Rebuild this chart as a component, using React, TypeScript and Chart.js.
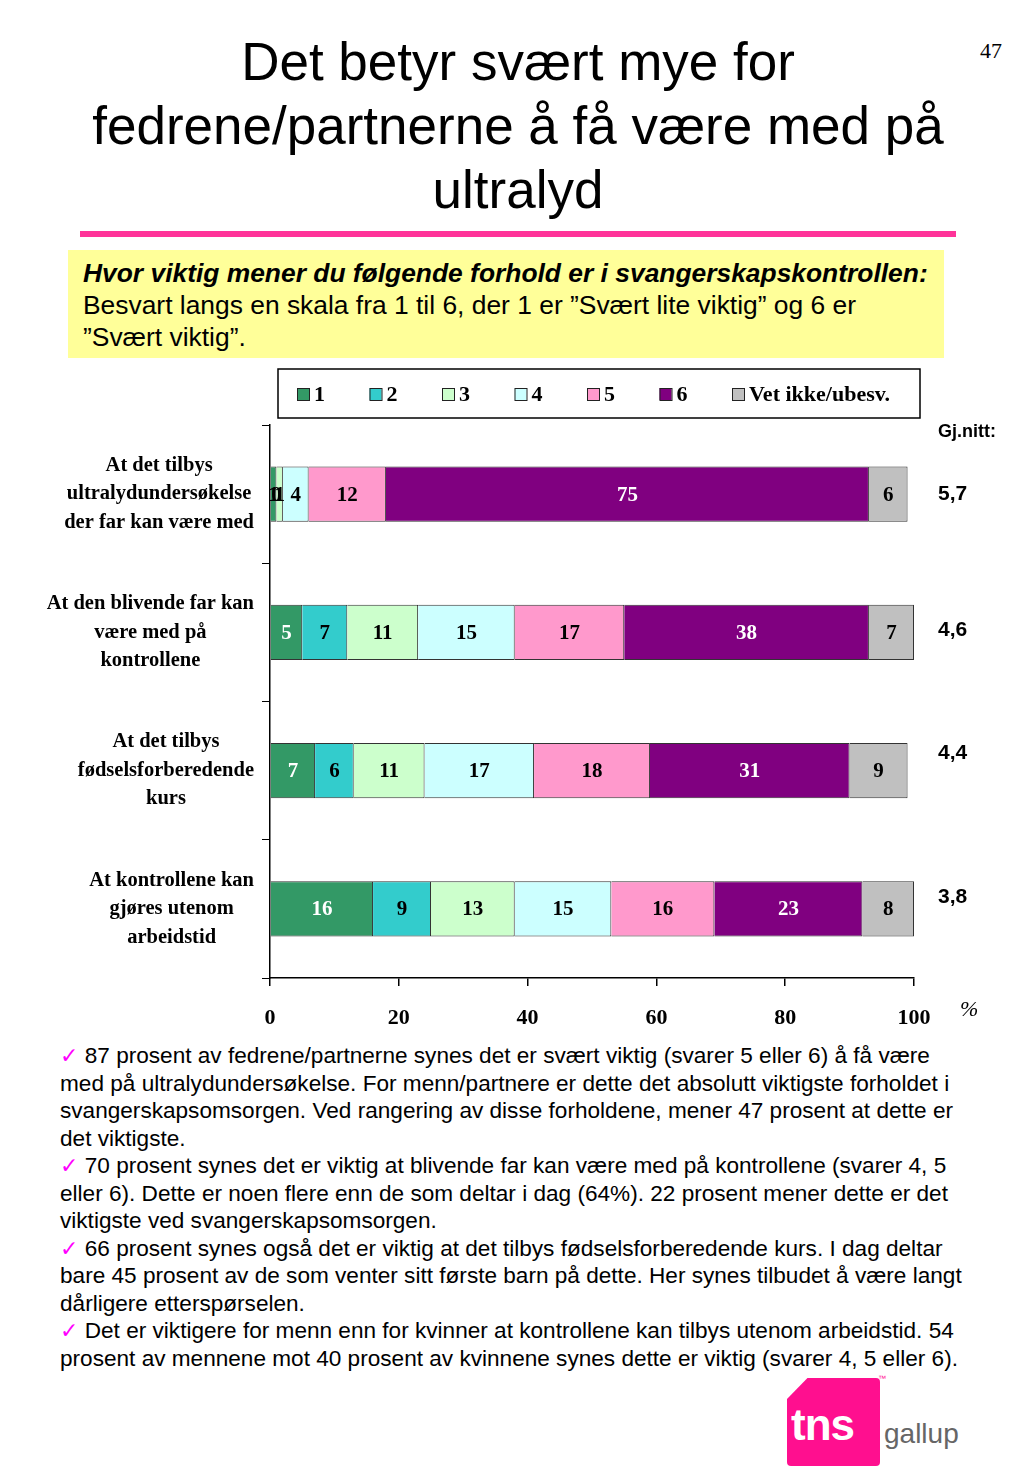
import React, { useEffect, useRef } from "react";
import { Chart, registerables } from "chart.js";
Chart.register(...registerables);

const categories = [
  ["At det tilbys", "ultralydundersøkelse", "der far kan være med"],
  ["At den blivende far kan", "være med på", "kontrollene"],
  ["At det tilbys", "fødselsforberedende", "kurs"],
  ["At kontrollene kan", "gjøres utenom", "arbeidstid"],
];
const seriesNames = ["1", "2", "3", "4", "5", "6", "Vet ikke/ubesv."];
const s1 = [1, 5, 7, 16];
const s2 = [0, 7, 6, 9];
const s3 = [1, 11, 11, 13];
const s4 = [4, 15, 17, 15];
const s5 = [12, 17, 18, 16];
const s6 = [75, 38, 31, 23];
const s7 = [6, 7, 9, 8];
const averages = ["5,7", "4,6", "4,4", "3,8"];
const xTickValues = [0, 20, 40, 60, 80, 100];

const seriesColors = ["#339966", "#33cccc", "#ccffcc", "#ccffff", "#ff99cc", "#800080", "#c0c0c0"];
const whiteText = [true, false, false, false, false, true, false];
const SERIF = '"Liberation Serif", "Times New Roman", serif';
const SANS = '"Liberation Sans", Arial, sans-serif';

const bottomLines: { check: boolean; text: string }[] = [
  { check: true, text: "87 prosent av fedrene/partnerne synes det er svært viktig (svarer 5 eller 6) å få være" },
  { check: false, text: "med på ultralydundersøkelse. For menn/partnere er dette det absolutt viktigste forholdet i" },
  { check: false, text: "svangerskapsomsorgen. Ved rangering av disse forholdene, mener 47 prosent at dette er" },
  { check: false, text: "det viktigste." },
  { check: true, text: "70 prosent synes det er viktig at blivende far kan være med på kontrollene (svarer 4, 5" },
  { check: false, text: "eller 6). Dette er noen flere enn de som deltar i dag (64%). 22 prosent mener dette er det" },
  { check: false, text: "viktigste ved svangerskapsomsorgen." },
  { check: true, text: "66 prosent synes også det er viktig at det tilbys fødselsforberedende kurs. I dag deltar" },
  { check: false, text: "bare 45 prosent av de som venter sitt første barn på dette. Her synes tilbudet å være langt" },
  { check: false, text: "dårligere etterspørselen." },
  { check: true, text: "Det er viktigere for menn enn for kvinner at kontrollene kan tilbys utenom arbeidstid. 54" },
  { check: false, text: "prosent av mennene mot 40 prosent av kvinnene synes dette er viktig (svarer 4, 5 eller 6)." },
];

const avgOffsets = [0, -2, -17, -12];

const overlayPlugin = {
  id: "overlay",
  afterDatasetsDraw(chart: any) {
    const ctx = chart.ctx;
    ctx.save();
    chart.data.datasets.forEach((ds: any, di: number) => {
      const meta = chart.getDatasetMeta(di);
      meta.data.forEach((el: any, i: number) => {
        const v = ds.data[i];
        const cx = (el.x + el.base) / 2;
        ctx.font = `bold 21px ${SERIF}`;
        ctx.textAlign = "center";
        ctx.textBaseline = "middle";
        ctx.fillStyle = whiteText[di] && v >= 3 ? "#ffffff" : "#000000";
        ctx.fillText(String(v), cx, el.y + 1);
      });
    });
    ctx.restore();
  },
  afterDraw(chart: any) {
    const ctx = chart.ctx;
    const xs = chart.scales.x;
    const ys = chart.scales.y;
    ctx.save();
    // category labels: each block right-aligned, lines centred within block
    ctx.font = `bold 20.5px ${SERIF}`;
    ctx.fillStyle = "#000";
    ctx.textAlign = "center";
    ctx.textBaseline = "middle";
    (chart.data.labels as string[][]).forEach((lines, i) => {
      const widest = Math.max(...lines.map((l) => ctx.measureText(l).width));
      const cx = ys.right - 16 - widest / 2;
      const cy = ys.getPixelForValue(i);
      const lh = 28.5;
      lines.forEach((l, k) => {
        ctx.fillText(l, cx, cy + (k - (lines.length - 1) / 2) * lh);
      });
    });
    // legend
    const lx = 278, ly = 9, lw = 642, lh = 49;
    ctx.fillStyle = "#fff";
    ctx.fillRect(lx, ly, lw, lh);
    ctx.strokeStyle = "#000";
    ctx.lineWidth = 1.5;
    ctx.strokeRect(lx, ly, lw, lh);
    chart.data.datasets.forEach((ds: any, i: number) => {
      const bx = 297 + i * 72.5;
      const by = 28;
      ctx.fillStyle = ds.backgroundColor;
      ctx.fillRect(bx, by, 12, 12);
      ctx.strokeStyle = "#222";
      ctx.lineWidth = 1;
      ctx.strokeRect(bx + 0.5, by + 0.5, 12, 12);
      ctx.fillStyle = "#000";
      ctx.font = `bold 22px ${SERIF}`;
      ctx.textAlign = "left";
      ctx.textBaseline = "middle";
      ctx.fillText(ds.label, bx + 17, by + 7);
    });
    ctx.font = `italic 22px ${SERIF}`;
    ctx.fillStyle = "#000";
    ctx.textAlign = "left";
    ctx.textBaseline = "middle";
    ctx.fillText("%", xs.right + 46, xs.top + 32);
    ctx.font = `bold 18px ${SANS}`;
    ctx.fillText("Gj.nitt:", xs.right + 24, 72);
    ctx.font = `bold 21px ${SANS}`;
    averages.forEach((a, i) => {
      const y = ys.getPixelForValue(i) + avgOffsets[i];
      ctx.fillText(a, xs.right + 24, y);
    });
    ctx.restore();
  },
};

export default function App() {
  const ref = useRef<HTMLCanvasElement | null>(null);
  useEffect(() => {
    if (!ref.current) return;
    const series = [s1, s2, s3, s4, s5, s6, s7];
    const chart = new Chart(ref.current, {
      type: "bar",
      data: {
        labels: categories,
        datasets: series.map((d, i) => ({
          label: seriesNames[i],
          data: d,
          backgroundColor: seriesColors[i],
          borderColor: "#333333",
          borderWidth: 1,
          barPercentage: 0.4,
          categoryPercentage: 1,
        })),
      },
      options: {
        indexAxis: "y",
        animation: false,
        responsive: false,
        maintainAspectRatio: false,
        layout: { padding: { top: 65, right: 110, left: 0, bottom: 0 } },
        plugins: { legend: { display: false }, tooltip: { enabled: false } },
        scales: {
          x: {
            stacked: true,
            min: 0,
            max: 100,
            afterBuildTicks: (s: any) => {
              s.ticks = xTickValues.map((v) => ({ value: v }));
            },
            afterFit: (s: any) => {
              s.height = 62;
            },
            grid: { drawOnChartArea: false, drawTicks: true, tickLength: 8, color: "#000", lineWidth: 1.5 },
            border: { color: "#000", width: 1.5 },
            ticks: {
              color: "#000",
              padding: 19,
              maxRotation: 0,
              font: { family: SERIF, size: 22, weight: "bold" },
            },
          },
          y: {
            stacked: true,
            afterFit: (s: any) => {
              s.width = 270;
            },
            grid: { offset: true, drawOnChartArea: false, drawTicks: true, tickLength: 8, color: "#000", lineWidth: 1 },
            border: { color: "#000", width: 1.5 },
            ticks: {
              color: "#000",
              callback: () => "",
              font: { family: SERIF, size: 20.5, weight: "bold" },
            },
          },
        },
      } as any,
      plugins: [overlayPlugin],
    });
    return () => chart.destroy();
  }, []);

  return (
    <div style={{ position: "absolute", left: 0, top: 0, width: 1024, height: 1479, background: "#fff", overflow: "hidden", fontFamily: SANS }}>
      <div style={{ position: "absolute", left: 0, top: 30, width: 1036, textAlign: "center", fontSize: 53, lineHeight: "64px", color: "#000", whiteSpace: "nowrap" }}>
        Det betyr svært mye for<br />fedrene/partnerne å få være med på<br />ultralyd
      </div>
      <div style={{ position: "absolute", left: 980, top: 38, fontFamily: SERIF, fontSize: 22 }}>47</div>
      <div style={{ position: "absolute", left: 80, top: 231, width: 876, height: 6, background: "#ff3399" }} />
      <div style={{ position: "absolute", left: 68, top: 250, width: 876, height: 108, background: "#ffff99", boxSizing: "border-box", padding: "7px 0 0 15px", fontSize: 26.4, lineHeight: "32px", whiteSpace: "nowrap" }}>
        <b><i>Hvor viktig mener du følgende forhold er i svangerskapskontrollen:</i></b>
        <br />Besvart langs en skala fra 1 til 6, der 1 er ”Svært lite viktig” og 6 er
        <br />”Svært viktig”.
      </div>
      <canvas ref={ref} width={1024} height={680} style={{ position: "absolute", left: 0, top: 360, width: 1024, height: 680 }} />
      <div style={{ position: "absolute", left: 60, top: 1042, fontSize: 22.6, lineHeight: "27.5px", whiteSpace: "nowrap", color: "#000" }}>
        {bottomLines.map((l, i) => (
          <div key={i}>
            {l.check ? <span style={{ color: "#ff00ff", fontFamily: '"DejaVu Sans", sans-serif', fontSize: 22, fontWeight: "bold" }}>✓</span> : null}
            {l.check ? " " : null}
            {l.text}
          </div>
        ))}
      </div>
      <div style={{ position: "absolute", left: 787, top: 1378, width: 93, height: 88, background: "#ff0f8f", clipPath: "polygon(22% 0, 100% 0, 100% 100%, 0 100%, 0 24%)", borderRadius: 4 }} />
      <div style={{ position: "absolute", left: 791, top: 1402, fontSize: 44, fontWeight: "bold", color: "#fff", fontFamily: SANS, lineHeight: "46px", letterSpacing: -1 }}>tns</div>
      <div style={{ position: "absolute", left: 884, top: 1414, fontSize: 28, color: "#666", fontFamily: SANS, lineHeight: "40px" }}>gallup</div>
      <div style={{ position: "absolute", left: 878, top: 1374, fontSize: 8, color: "#ff0f8f", fontFamily: SANS }}>™</div>
    </div>
  );
}
